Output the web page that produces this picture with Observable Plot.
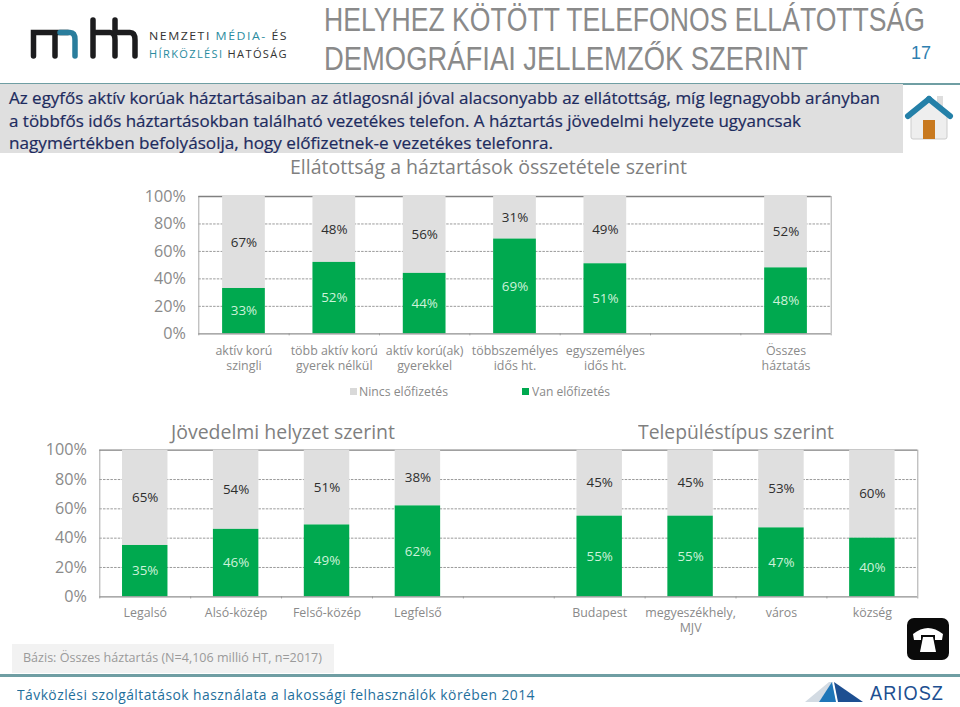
<!DOCTYPE html>
<html><head><meta charset="utf-8">
<script src="https://cdn.jsdelivr.net/npm/d3@7"></script>
<script src="https://cdn.jsdelivr.net/npm/@observablehq/plot@0.6"></script>
<style>
html,body{margin:0;padding:0;background:#fff;overflow:hidden}
#page{position:relative;width:960px;height:707px;font-family:"Open Sans",sans-serif;overflow:hidden}
.t{position:absolute;white-space:nowrap;transform-origin:0 0}
.c{position:absolute}
.c svg{overflow:visible;display:block}
.h{font:32.5px/38px 'Liberation Sans';color:#8a8a8a}
.p{font:16.6px/22px 'Open Sans';color:#1d2b5e;-webkit-text-stroke:.2px #1d2b5e}
.s{font:19.4px 'Open Sans';color:#7f7f7f}
</style></head><body><div id="page">
<svg class="c" style="left:0;top:0" width="145" height="65">
<g fill="none" stroke-width="5.5" stroke-linecap="round">
<path d="M33.500 56V32.500H55V56M55 32.500H68" stroke="#1c1c1e"/>
<path d="M60 32.500H70Q75 32.500 75 40V56" stroke="#2a7d9c"/>
<path d="M93 56V20M93 32.500H110Q115 32.500 115 40V56" stroke="#1c1c1e"/>
<path d="M115 20V32.500H130Q135 32.500 135 40V56" stroke="#1c1c1e"/></g></svg>
<div class="t" data-w="139" style="left:149px;top:27px;font:11.4px/18px 'Open Sans';letter-spacing:1.4px;color:#333">NEMZETI <span style="color:#2a8ca0">MÉDIA-</span> ÉS</div>
<div class="t" data-w="139" style="left:149px;top:45px;font:11.4px/18px 'Open Sans';letter-spacing:1.4px;color:#333"><span style="color:#2a8ca0">HÍRKÖZLÉSI</span> HATÓSÁG</div>
<div class="t h" data-w="601" style="left:324px;top:1px">HELYHEZ KÖTÖTT TELEFONOS ELLÁTOTTSÁG</div>
<div class="t h" data-w="484" style="left:324px;top:40px">DEMOGRÁFIAI JELLEMZŐK SZERINT</div>
<div class="t" style="left:911px;top:43px;font:18px 'Liberation Sans';color:#2e7fb0">17</div>
<div class="c" style="left:0;top:83px;width:960px;height:1.500px;background:#6f9ea3"></div>
<div class="c" style="left:0;top:84px;width:903px;height:69px;background:#dfdfdf"></div>
<div class="t p" data-w="871" style="left:9px;top:87px">Az egyfős aktív korúak háztartásaiban az átlagosnál jóval alacsonyabb az ellátottság, míg legnagyobb arányban</div>
<div class="t p" data-w="792" style="left:9px;top:110px">a többfős idős háztartásokban található vezetékes telefon. A háztartás jövedelmi helyzete ugyancsak</div>
<div class="t p" data-w="544" style="left:9px;top:132px">nagymértékben befolyásolja, hogy előfizetnek-e vezetékes telefonra.</div>
<svg class="c" style="left:904px;top:92px" width="50" height="50" viewBox="0 0 50 50">
<rect x="33" y="4" width="6" height="16" fill="#ddd"/><path d="M7 22 25 8 43 22V45Q43 47 41 47H9Q7 47 7 45Z" fill="#eee" stroke="#ccc"/>
<path d="M25 7 4 24" stroke="#2480a8" stroke-width="6" stroke-linecap="round" fill="none"/><path d="M25 7 46 24" stroke="#2480a8" stroke-width="6" stroke-linecap="round" fill="none"/><rect x="19" y="28" width="12" height="19" fill="#c8791f"/></svg>
<div class="t s" data-w="397" style="left:290px;top:153px">Ellátottság a háztartások összetétele szerint</div>
<div class="t s" data-w="224" style="left:171px;top:418px">Jövedelmi helyzet szerint</div>
<div class="t s" data-w="196" style="left:638px;top:418px">Településtípus szerint</div>
<div id="top" class="c" style="left:0;top:0"></div>
<div id="bottom" class="c" style="left:0;top:0"></div>
<div class="c" style="left:350px;top:388px;width:7px;height:7px;background:#d9d9d9"></div>
<div class="t" data-w="89" style="left:359px;top:383px;font:12.5px 'Open Sans';color:#8a8a8a">Nincs előfizetés</div>
<div class="c" style="left:522px;top:388px;width:7px;height:7px;background:#00a94f"></div>
<div class="t" data-w="78" style="left:532px;top:383px;font:12.5px 'Open Sans';color:#8a8a8a">Van előfizetés</div>
<div class="c" style="left:12px;top:644px;width:322px;height:29px;background:#f2f2f2"></div>
<div class="t" data-w="299" style="left:23px;top:649px;font:12.6px 'Open Sans';color:#9a9a9a">Bázis: Összes háztartás (N=4,106 millió HT, n=2017)</div>
<svg class="c" style="left:906px;top:617px" width="44" height="44" viewBox="0 0 44 44">
<rect x="1" y="1" width="42" height="42" rx="7" fill="#0a0a0a"/>
<path d="M7 17Q22 5 37 17L36 23H29V18H15V23H8Z" fill="#fff"/><path d="M14 35 17 20H27L30 35Z" fill="#fff"/></svg>
<div class="c" style="left:0;top:674px;width:960px;height:2.500px;background:#6f9ea3"></div>
<div class="t" data-w="518" style="left:17px;top:684px;font:15px 'Open Sans';letter-spacing:.5px;color:#1f6f9c">Távközlési szolgáltatások használata a lakossági felhasználók körében 2014</div>
<svg class="c" style="left:805px;top:680px" width="60" height="24" viewBox="0 0 60 24">
<path d="M0 22 24 2H28L14 22Z" fill="#d3dbe3"/><path d="M14 22 27 2 31 22Z" fill="#1f76b8"/><path d="M29 2 58 22H33Z" fill="#1d4f91"/></svg>
<div class="t" data-w="74" style="left:870px;top:682px;font:20px 'Liberation Sans';letter-spacing:1.2px;color:#1d4f91">ARIOSZ</div>
</div>
<script>
// Household composition
const hhCats = ["aktív korú|szingli","több aktív korú|gyerek nélkül","aktív korú(ak)|gyerekkel","többszemélyes|idős ht.","egyszemélyes|idős ht.","gap1","Összes|háztatás"];
const hhVan = [33,52,44,69,51,null,48];
const hhNincs = [67,48,56,31,49,null,52];
// Income and settlement type
const incCats = ["Legalsó","Alsó-közép","Felső-közép","Legfelső","gap2","Budapest","megyeszékhely,|MJV","város","község"];
const incVan = [35,46,49,62,null,55,55,47,40];
const incNincs = [65,54,51,38,null,45,45,53,60];
const yTicks = [0,20,40,60,80,100];
const GREEN="#00a94f", GREY="#dfdfdf", AXIS="#8f8f8f";
const FONT="'Open Sans',sans-serif";

function chart(host,cats,van,nincs,o){
  const rows=cats.map((c,i)=>({c,van:van[i],nincs:nincs[i]})).filter(d=>d.van!=null);
  const step=(o.right-o.left)/cats.length;
  const first=cats[0], last=cats[cats.length-1];
  const p=Plot.plot({
    width:960,height:o.height,
    marginLeft:o.left,marginRight:960-o.right,marginTop:o.top,marginBottom:o.height-o.bottom,
    style:{background:"transparent",fontFamily:FONT,overflow:"visible"},
    x:{domain:cats,round:false,paddingInner:o.pad,paddingOuter:o.pad/2,align:.5,label:null,axis:null},
    y:{domain:[0,100],label:null,axis:null},
    marks:[
      Plot.ruleY(yTicks.filter(t=>t>0&&t<100),{stroke:AXIS,strokeWidth:.9,strokeDasharray:"2.5,1.2"}),
      Plot.ruleX([first],{dx:-step/2,y1:-1.5,y2:100,stroke:"#a8a8a8",strokeWidth:1}),
      Plot.ruleX(cats,{dx:step/2,y1:-1.5,y2:0,stroke:"#a8a8a8",strokeWidth:1}),
      Plot.ruleX([last],{dx:step/2,y1:0,y2:100,stroke:"#a8a8a8",strokeWidth:1}),
      Plot.ruleY([100],{stroke:"#808080",strokeWidth:1.3}),
      Plot.barY(rows,{x:"c",y1:"van",y2:100,fill:GREY}),
      Plot.barY(rows,{x:"c",y1:0,y2:"van",fill:GREEN}),
      Plot.ruleY([0],{stroke:AXIS,strokeWidth:1.3}),
      Plot.axisY({ticks:yTicks,tickFormat:d=>d+"%",tickSize:0,tickPadding:o.axisPad,fontSize:16.2,fill:"#8a8a8a",anchor:"left",label:null}),
      Plot.text(rows,{x:"c",y:d=>d.van/2,text:d=>d.van+"%",fill:"#cdf2da",fontSize:13.4}),
      Plot.text(rows,{x:"c",y:d=>d.van+d.nincs/2,text:d=>d.nincs+"%",fill:"#2e2e2e",fontSize:13.4}),
      Plot.text(rows,{x:"c",y:0,text:d=>d.c.replace("|","\n"),dy:o.labDy,lineAnchor:"top",lineHeight:1.25,fill:"#8a8a8a",fontSize:12.4})
    ]
  });
  document.getElementById(host).appendChild(p);
}
chart("top",hhCats,hhVan,hhNincs,{height:400,left:198.3,right:830.7,top:196,bottom:333.3,pad:.527,axisPad:13,labDy:10});
chart("bottom",incCats,incVan,incNincs,{height:650,left:99.3,right:917.3,top:449.7,bottom:596.3,pad:.5,axisPad:13,labDy:9});

// Stretch header and caption text to the widths they have in the slide.
document.querySelectorAll("[data-w]").forEach(el=>{
  const w=el.getBoundingClientRect().width;
  el.style.transform=`scaleX(${+el.dataset.w/w})`;
});
</script></body></html>
